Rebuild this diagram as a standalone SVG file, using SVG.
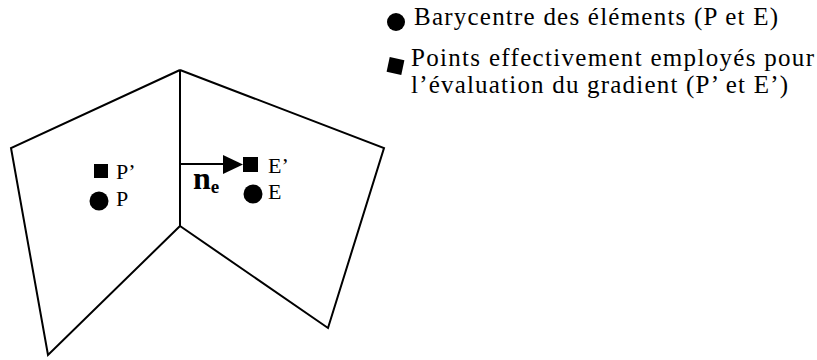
<svg xmlns="http://www.w3.org/2000/svg" width="817" height="360" viewBox="0 0 817 360">
<style>
.edge{fill:none;stroke:#000;stroke-width:2;stroke-linejoin:miter}
text{font-family:'Liberation Serif','Times New Roman',serif;fill:#000}
.lab{font-size:22px}
.leg{font-size:25px}
</style>
<rect width="817" height="360" fill="#fff"/>
<g id="element-P">
<polyline class="edge" points="180,70 11,148 48,355 180,226"/>
<rect x="94" y="164" width="14" height="14"/>
<text class="lab" x="116" y="179">P’</text>
<circle cx="99" cy="201" r="9.5"/>
<text class="lab" x="116" y="206">P</text>
</g>
<g id="element-E">
<polyline class="edge" points="180,70 384,148 328,328 180,226"/>
<rect x="243" y="157" width="15" height="15"/>
<text class="lab" x="268" y="173">E’</text>
<circle cx="253" cy="194" r="9.5"/>
<text class="lab" x="268" y="199">E</text>
</g>
<g id="face">
<line class="edge" x1="180" y1="70" x2="180" y2="226"/>
</g>
<g id="connectors">
<line x1="180" y1="164" x2="226" y2="164" stroke="#000" stroke-width="2"/>
<polygon points="223,155 243,164.5 223,174"/>
<text x="193" y="189" font-size="32" font-weight="bold">n<tspan font-size="19" dy="4">e</tspan></text>
</g>
<g id="legend">
<circle cx="396" cy="22" r="9"/>
<text class="leg" x="414" y="25" textLength="364" lengthAdjust="spacing">Barycentre des éléments (P et E)</text>
<rect x="388" y="58.5" width="15" height="15" transform="rotate(12 395.5 66)"/>
<text class="leg" x="411" y="66" textLength="403" lengthAdjust="spacing">Points effectivement employés pour</text>
<text class="leg" x="411" y="93" textLength="377" lengthAdjust="spacing">l’évaluation du gradient (P’ et E’)</text>
</g>
</svg>
